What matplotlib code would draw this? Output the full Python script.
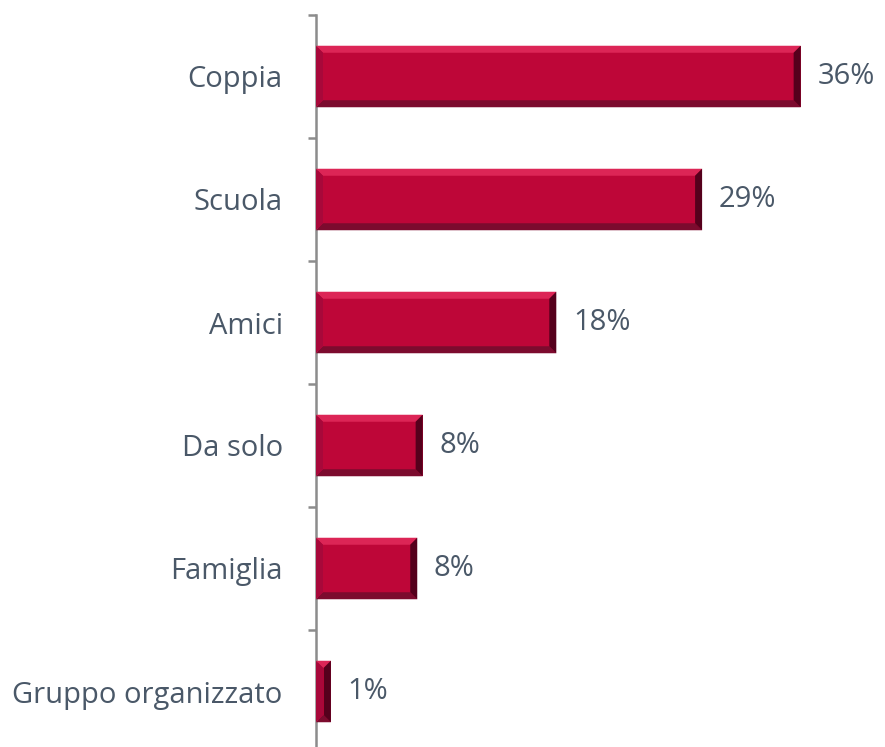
import matplotlib
matplotlib.use("Agg")
import matplotlib.pyplot as plt
from matplotlib.patches import Polygon
import numpy as np

categories = ["Coppia", "Scuola", "Amici", "Da solo", "Famiglia", "Gruppo organizzato"]
values = [35.9, 28.6, 17.8, 7.9, 7.5, 1.1]

W, H, DPI = 885, 747, 100
fig = plt.figure(figsize=(W / DPI, H / DPI), dpi=DPI)
plt.rcParams["font.family"] = ["Open Sans", "DejaVu Sans"]

ax_left, ax_top, ax_right = 316, 15, 856
n = len(categories)
pitch = 123
ax_h = n * pitch
ax = fig.add_axes([ax_left / W, (H - ax_top - ax_h) / H, (ax_right - ax_left) / W, ax_h / H])

xmax = 40
ax.set_xlim(0, xmax)
ax.set_ylim(-0.5, n - 0.5)

ypos = np.arange(n)[::-1]
bar_h = 0.5
face = "#BE0638"
ax.barh(ypos, values, height=bar_h, color=face, edgecolor="none", zorder=2)

# bevel edges, sized in pixels and converted to data units
px_x = xmax / (ax_right - ax_left)
px_y = 1.0 / pitch
bev = 7
for y, v in zip(ypos, values):
    x0, x1 = 0, v
    y0, y1 = y - bar_h / 2, y + bar_h / 2
    bx = min(bev * px_x, v / 2)
    by = bev * px_y
    top = [(x0, y1), (x1, y1), (x1 - bx, y1 - by), (x0 + bx, y1 - by)]
    bottom = [(x0, y0), (x1, y0), (x1 - bx, y0 + by), (x0 + bx, y0 + by)]
    left = [(x0, y0), (x0, y1), (x0 + bx, y1 - by), (x0 + bx, y0 + by)]
    right = [(x1, y0), (x1, y1), (x1 - bx, y1 - by), (x1 - bx, y0 + by)]
    ax.add_patch(Polygon(top, closed=True, color="#DC2556", lw=0, zorder=3))
    ax.add_patch(Polygon(bottom, closed=True, color="#7C0B2E", lw=0, zorder=3))
    ax.add_patch(Polygon(left, closed=True, color="#A8083A", lw=0, zorder=3))
    ax.add_patch(Polygon(right, closed=True, color="#55001C", lw=0, zorder=3))
    ax.annotate(f"{v:.0f}%", xy=(v, y), xytext=(12, 0), textcoords="offset points",
                ha="left", va="center", fontsize=21, color="#4A5868")

for s in ["top", "right", "bottom"]:
    ax.spines[s].set_visible(False)
ax.spines["left"].set_color("#8C8C8C")
ax.spines["left"].set_linewidth(1.8)
ax.set_xticks([])
ax.set_yticks(ypos)
ax.set_yticklabels(categories, fontsize=21, color="#4A5868")
ax.tick_params(axis="y", which="major", length=0, pad=24)
ax.set_yticks(np.arange(-0.5, n, 1.0), minor=True)
ax.tick_params(axis="y", which="minor", length=6, width=1.8, color="#8C8C8C", direction="out")

fig.savefig("out.png", dpi=DPI)
